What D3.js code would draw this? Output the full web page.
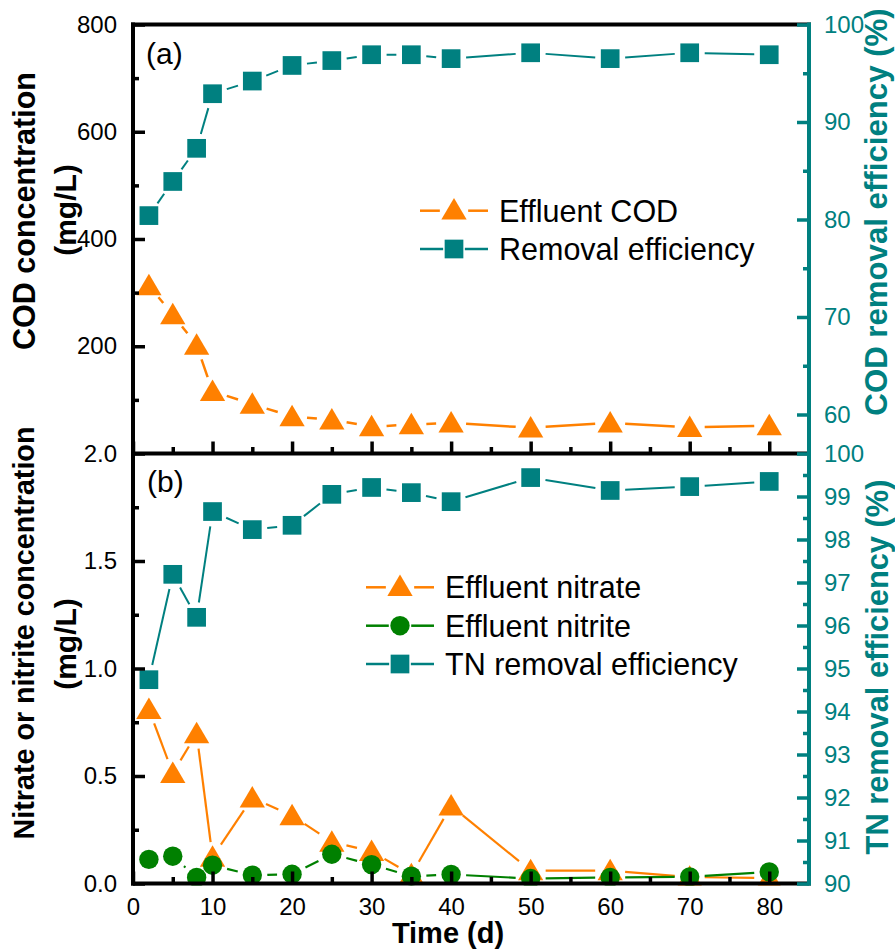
<!DOCTYPE html>
<html>
<head>
<meta charset="utf-8">
<script src="https://cdn.jsdelivr.net/npm/d3@7"></script>
<style>
  html, body { margin: 0; padding: 0; background: #fff; }
  svg { display: block; font-family: "Liberation Sans", Arial, Helvetica, sans-serif; }
</style>
</head>
<body>
<script>
// ---------- data ----------
const days = [2, 5, 8, 10, 15, 20, 25, 30, 35, 40, 50, 60, 70, 80];
const codEffluent = [313, 259, 202, 116, 92, 69, 63, 50, 54, 57, 48, 57, 49, 52];
const codRemoval = [80.4, 83.9, 87.3, 92.9, 94.2, 95.8, 96.3, 96.9, 96.9, 96.5, 97.1, 96.5, 97.1, 96.9];
const nitrate = [0.81, 0.513, 0.697, 0.123, 0.398, 0.316, 0.193, 0.15, 0.041, 0.361, 0.06, 0.06, 0.03, 0.025];
const nitrite = [0.112, 0.127, 0.028, 0.085, 0.039, 0.043, 0.136, 0.088, 0.034, 0.042, 0.023, 0.028, 0.031, 0.054];
const tnRemoval = [94.74, 97.19, 96.19, 98.65, 98.23, 98.33, 99.05, 99.21, 99.09, 98.88, 99.44, 99.14, 99.23, 99.35];

// ---------- ticks ----------
const timeTicks = [0, 10, 20, 30, 40, 50, 60, 70, 80];
const timeMinor = [5, 15, 25, 35, 45, 55, 65, 75];
const codTicks = [200, 400, 600, 800];
const codMinor = [100, 300, 500, 700];
const codEffTicks = [60, 70, 80, 90, 100];
const codEffMinor = [65, 75, 85, 95];
const nTicks = [0, 0.5, 1.0, 1.5, 2.0];
const nMinor = [0.25, 0.75, 1.25, 1.75];
const tnTicks = [90, 91, 92, 93, 94, 95, 96, 97, 98, 99, 100];
const tnMinor = [90.5, 91.5, 92.5, 93.5, 94.5, 95.5, 96.5, 97.5, 98.5, 99.5];

// ---------- legend labels ----------
const legendTop = ["Effluent COD", "Removal efficiency"];
const legendBot = ["Effluent nitrate", "Effluent nitrite", "TN removal efficiency"];

// ---------- colours ----------
const ORANGE = "#FF8000", TEAL = "#008080", GREEN = "#008000";

const W = 895, H = 950;
const L = 133, R = 809;
const T1 = 24.5, B1 = 453.5, B2 = 883.5;

const svg = d3.select("body").append("svg").attr("width", W).attr("height", H);

const x = d3.scaleLinear().domain([0, 85]).range([L, R]);
const yTopL = d3.scaleLinear().domain([0, 800]).range([B1, T1]);
const yTopR = d3.scaleLinear().domain([56, 100]).range([B1, T1]);
const yBotL = d3.scaleLinear().domain([0, 2]).range([B2, B1]);
const yBotR = d3.scaleLinear().domain([90, 100]).range([B2, B1]);

const defs = svg.append("defs");
defs.append("clipPath").attr("id", "clipTop").append("rect")
  .attr("x", L).attr("y", T1).attr("width", R - L).attr("height", B1 - T1);
defs.append("clipPath").attr("id", "clipBot").append("rect")
  .attr("x", L).attr("y", B1).attr("width", R - L).attr("height", B2 - B1 + 2);

// ---------- marker shapes ----------
const SQ = 18.7, TRW = 25.3, TRH = 21.5, CR = 9.7;
function drawMarker(g, type, cx, cy, color) {
  if (type === "square") {
    g.append("rect").attr("x", cx - SQ / 2).attr("y", cy - SQ / 2)
      .attr("width", SQ).attr("height", SQ).attr("fill", color);
  } else if (type === "triangle") {
    const a = 0.55;
    const p = [[cx, cy - TRH * a], [cx - TRW / 2, cy + TRH * (1 - a)], [cx + TRW / 2, cy + TRH * (1 - a)]];
    g.append("path").attr("d", "M" + p.map(q => q.join(",")).join("L") + "Z").attr("fill", color);
  } else {
    g.append("circle").attr("cx", cx).attr("cy", cy).attr("r", CR).attr("fill", color);
  }
}

const GAP = 15;
function drawSeries(g, xs, ys, xScale, yScale, color, type, lw) {
  const pts = xs.map((d, i) => [xScale(d), yScale(ys[i])]);
  for (let i = 0; i < pts.length - 1; i++) {
    const [x1, y1] = pts[i], [x2, y2] = pts[i + 1];
    const dx = x2 - x1, dy = y2 - y1, len = Math.hypot(dx, dy);
    if (len <= 2 * GAP + 1) continue;
    const ux = dx / len, uy = dy / len;
    g.append("line")
      .attr("x1", x1 + ux * GAP).attr("y1", y1 + uy * GAP)
      .attr("x2", x2 - ux * GAP).attr("y2", y2 - uy * GAP)
      .attr("stroke", color).attr("stroke-width", lw);
  }
  pts.forEach(p => drawMarker(g, type, p[0], p[1], color));
}

// ---------- data layers ----------
const gTop = svg.append("g").attr("clip-path", "url(#clipTop)");
drawSeries(gTop, days, codRemoval, x, yTopR, TEAL, "square", 2);
drawSeries(gTop, days, codEffluent, x, yTopL, ORANGE, "triangle", 2.5);

const gBot = svg.append("g").attr("clip-path", "url(#clipBot)");
drawSeries(gBot, days, tnRemoval, x, yBotR, TEAL, "square", 2);
drawSeries(gBot, days, nitrate, x, yBotL, ORANGE, "triangle", 2.2);
drawSeries(gBot, days, nitrite, x, yBotL, GREEN, "circle", 2.2);

// ---------- axes ----------
const TICK_W = 3.5, FONT = 24;
function styleAxis(g, color) {
  g.select(".domain").remove();
  g.selectAll(".tick line").attr("stroke", color).attr("stroke-width", TICK_W);
  g.selectAll(".tick text").attr("fill", color).style("font-size", FONT + "px");
}

// x axes
svg.append("g").attr("transform", `translate(0,${B1})`)
  .call(d3.axisBottom(x).tickValues(timeTicks).tickSize(-12).tickFormat(""))
  .call(g => styleAxis(g, "#000"));
svg.append("g").attr("transform", `translate(0,${B1})`)
  .call(d3.axisBottom(x).tickValues(timeMinor).tickSize(-6.5).tickFormat(""))
  .call(g => styleAxis(g, "#000"));
svg.append("g").attr("transform", `translate(0,${B2})`)
  .call(d3.axisBottom(x).tickValues(timeTicks).tickSize(-12).tickPadding(14).tickFormat(d3.format("d")))
  .call(g => styleAxis(g, "#000"));
svg.append("g").attr("transform", `translate(0,${B2})`)
  .call(d3.axisBottom(x).tickValues(timeMinor).tickSize(-6.5).tickFormat(""))
  .call(g => styleAxis(g, "#000"));

// left axes
svg.append("g").attr("transform", `translate(${L},0)`)
  .call(d3.axisLeft(yTopL).tickValues(codTicks).tickSize(-12).tickPadding(16).tickFormat(d3.format("d")))
  .call(g => styleAxis(g, "#000"));
svg.append("g").attr("transform", `translate(${L},0)`)
  .call(d3.axisLeft(yTopL).tickValues(codMinor).tickSize(-6).tickFormat(""))
  .call(g => styleAxis(g, "#000"));
svg.append("g").attr("transform", `translate(${L},0)`)
  .call(d3.axisLeft(yBotL).tickValues(nTicks).tickSize(-12).tickPadding(16).tickFormat(d3.format(".1f")))
  .call(g => styleAxis(g, "#000"));
svg.append("g").attr("transform", `translate(${L},0)`)
  .call(d3.axisLeft(yBotL).tickValues(nMinor).tickSize(-6).tickFormat(""))
  .call(g => styleAxis(g, "#000"));

// frames (black)
const frame = svg.append("g").attr("stroke", "#000").attr("stroke-width", 4).attr("stroke-linecap", "square");
[T1, B1, B2].forEach(yy => frame.append("line").attr("x1", L).attr("x2", R).attr("y1", yy).attr("y2", yy));
frame.append("line").attr("x1", L).attr("x2", L).attr("y1", T1).attr("y2", B2);

// right axes (teal)
svg.append("g").attr("transform", `translate(${R},0)`)
  .call(d3.axisRight(yTopR).tickValues(codEffTicks).tickSize(-12).tickPadding(15).tickFormat(d3.format("d")))
  .call(g => styleAxis(g, TEAL));
svg.append("g").attr("transform", `translate(${R},0)`)
  .call(d3.axisRight(yTopR).tickValues(codEffMinor).tickSize(-6).tickFormat(""))
  .call(g => styleAxis(g, TEAL));
svg.append("g").attr("transform", `translate(${R},0)`)
  .call(d3.axisRight(yBotR).tickValues(tnTicks).tickSize(-12).tickPadding(15).tickFormat(d3.format("d")))
  .call(g => styleAxis(g, TEAL));
svg.append("g").attr("transform", `translate(${R},0)`)
  .call(d3.axisRight(yBotR).tickValues(tnMinor).tickSize(-6).tickFormat(""))
  .call(g => styleAxis(g, TEAL));
svg.append("line").attr("x1", R).attr("x2", R).attr("y1", T1 - 2).attr("y2", B2 + 2)
  .attr("stroke", TEAL).attr("stroke-width", 4);

// ---------- titles ----------
function vText(txt, bx, cy, size, color, bold) {
  svg.append("text").attr("transform", `translate(${bx},${cy}) rotate(-90)`)
    .attr("text-anchor", "middle").attr("fill", color)
    .style("font-size", size + "px").style("font-weight", bold ? "bold" : "normal")
    .text(txt);
}
vText("COD concentration", 35, 211, 30.5, "#000", true);
vText("(mg/L)", 76, 210, 30, "#000", true);
vText("Nitrate or nitrite concentration", 34, 633, 28.7, "#000", true);
vText("(mg/L)", 76, 644, 30, "#000", true);
vText("COD removal efficiency (%)", 887, 212, 31.2, TEAL, true);
vText("TN removal efficiency (%)", 888, 667, 30.8, TEAL, true);

svg.append("text").attr("x", 448).attr("y", 943).attr("text-anchor", "middle")
  .style("font-size", "29px").style("font-weight", "bold").text("Time (d)");

svg.append("text").attr("x", 146).attr("y", 64).style("font-size", "30px").text("(a)");
svg.append("text").attr("x", 147).attr("y", 492).style("font-size", "30px").text("(b)");

// ---------- legends ----------
const halfW = { square: SQ / 2, triangle: TRW / 2, circle: CR };
function legendItem(cx, cy, color, type, label) {
  const g = svg.append("g");
  const hw = halfW[type];
  g.append("line").attr("x1", cx - 34).attr("x2", cx - hw - 1.5).attr("y1", cy).attr("y2", cy)
    .attr("stroke", color).attr("stroke-width", 2.5);
  g.append("line").attr("x1", cx + hw + 1.5).attr("x2", cx + 34).attr("y1", cy).attr("y2", cy)
    .attr("stroke", color).attr("stroke-width", 2.5);
  drawMarker(g, type, cx, type === "triangle" ? cy - 1 : cy, color);
  g.append("text").attr("x", cx + 45).attr("y", cy + 11).style("font-size", "30.5px").attr("fill", "#000").text(label);
}
const LEG_TOP_X = 454, LEG_BOT_X = 400;
legendItem(LEG_TOP_X, 210.7, ORANGE, "triangle", legendTop[0]);
legendItem(LEG_TOP_X, 249, TEAL, "square", legendTop[1]);
legendItem(LEG_BOT_X, 587.3, ORANGE, "triangle", legendBot[0]);
legendItem(LEG_BOT_X, 625.7, GREEN, "circle", legendBot[1]);
legendItem(LEG_BOT_X, 664, TEAL, "square", legendBot[2]);
</script>
</body>
</html>
